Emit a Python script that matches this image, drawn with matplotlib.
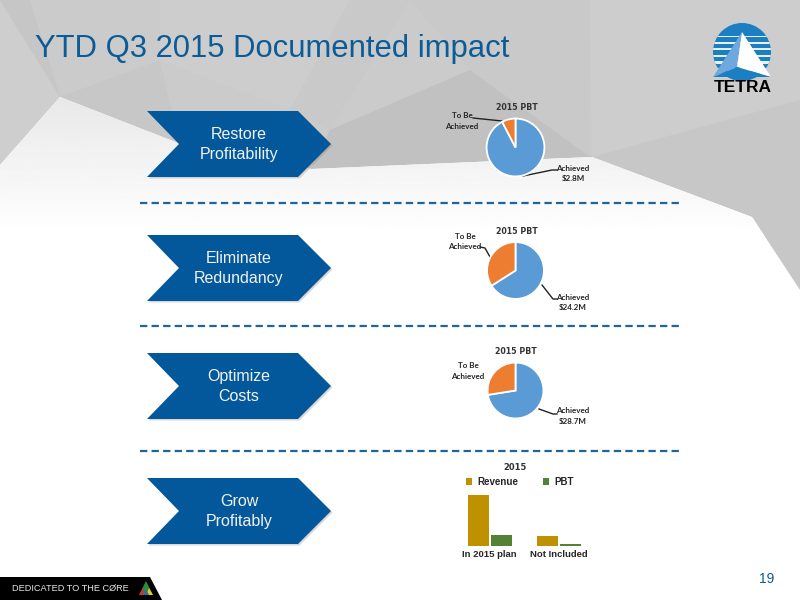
import numpy as np
import matplotlib
matplotlib.use("Agg")
import matplotlib.pyplot as plt
from matplotlib.patches import Polygon, Circle, Rectangle

W, H = 800, 600

# data
title = "YTD Q3 2015 Documented impact"
steps = ["Restore\nProfitability", "Eliminate\nRedundancy", "Optimize\nCosts", "Grow\nProfitably"]
pie_labels = ["Achieved", "To Be\nAchieved"]
pie_amounts = ["$2.8M", "$24.2M", "$28.7M"]
pie_shares = [[92.4, 7.6], [66, 34], [72.5, 27.5]]
bar_cats = ["In 2015 plan", "Not Included"]
revenue = [51, 10]
pbt = [11, 2.3]

BLUE = "#02589b"
plt.rcParams["font.family"] = ["Liberation Sans", "DejaVu Sans"]
fig = plt.figure(figsize=(8, 6), dpi=100)


def px_axes(x0, y0, x1, y1, z=2):
    ax = fig.add_axes([x0 / W, 1 - y1 / H, (x1 - x0) / W, (y1 - y0) / H], zorder=z)
    ax.patch.set_alpha(0)
    return ax


# page layer in pixel coordinates
bg = px_axes(0, 0, W, H, z=0)
bg.set_xlim(0, W)
bg.set_ylim(H, 0)
bg.axis("off")

# grey facets at the top
bg.add_patch(Polygon([(0, 0), (800, 0), (800, 300), (0, 300)], fc="#cbcbcb", ec="none", zorder=1))
facets = [
    ([(0, 0), (60, 97), (0, 165)], "#cecece"),
    ([(0, 0), (30, 0), (60, 97)], "#c6c6c6"),
    ([(60, 97), (160, 60), (178, 143)], "#c7c7c7"),
    ([(160, 0), (350, 0), (290, 110), (160, 60)], "#cdcdcd"),
    ([(350, 0), (410, 0), (330, 130), (290, 110)], "#c9c9c9"),
    ([(330, 130), (470, 70), (592, 157), (311, 169)], "#c1c1c1"),
    ([(410, 0), (590, 0), (590, 157), (470, 70)], "#c9c9c9"),
    ([(590, 0), (800, 0), (800, 150), (592, 157)], "#cdcdcd"),
    ([(592, 157), (800, 100), (800, 290), (752, 217)], "#c7c7c7"),
]
for pts, c in facets:
    bg.add_patch(Polygon(pts, fc=c, ec="none", zorder=1))

# white sheet with a soft shade near its top
sheet = Polygon([(0, 165), (60, 97), (178, 143), (311, 169), (592, 157), (752, 217),
                 (800, 290), (800, 600), (0, 600)], fc="white", ec="none", zorder=2)
bg.add_patch(sheet)
shade = np.linspace(0.91, 1, 80).reshape(-1, 1)
im = bg.imshow(shade, extent=(0, 800, 235, 97), cmap="gray", vmin=0, vmax=1,
               aspect="auto", zorder=2.5)
im.set_clip_path(sheet)
bg.set_xlim(0, W)
bg.set_ylim(H, 0)

bg.text(35, 49, title, fontsize=22.3, color="#0b5c96", va="center", ha="left", zorder=6)

# chevrons
for top, label in zip([111, 235, 353, 478], steps):
    bot, mid = top + 66, top + 33
    pts = [(147, top), (298, top), (331, mid), (298, bot), (147, bot), (179, mid)]
    bg.add_patch(Polygon([(x + 1.5, y + 1.5) for x, y in pts], fc="#808080", alpha=0.3, ec="none", zorder=4))
    bg.add_patch(Polygon(pts, fc=BLUE, ec="none", zorder=5))
    bg.text(239, mid + 0.5, label, color="#f2f2f2", fontsize=11.5, ha="center", va="center",
            linespacing=1.35, zorder=6)

# dashed separators
for y in [202.5, 326, 451]:
    bg.plot([140, 682], [y, y], color="#1c659e", lw=1.6, dashes=(3.3, 1.9), zorder=4)

# pies
pie_boxes = [(515.5, 147.5, 29.5), (515.5, 270.5, 29), (515.5, 390.5, 28.5)]
title_pos = [(517, 108), (517, 232), (516, 351)]
tobe_pos = [(462, 121), (465, 241.5), (468, 371)]
ach_pos = [(573, 173.5), (573, 302.5), (573, 416)]
leaders = [
    ([(473, 118), (502, 121)], [(523, 176), (552, 170), (557, 170)]),
    ([(480, 247), (485, 248), (490, 257)], [(542, 285), (553, 299), (557, 299)]),
    (None, [(539, 409), (553, 414), (557, 414)]),
]
lab_font = ["Lato", "DejaVu Sans"]
for i, shares in enumerate(pie_shares):
    cx, cy, r = pie_boxes[i]
    ax = px_axes(cx - r, cy - r, cx + r, cy + r, z=3)
    ax.pie(shares, colors=["#5b9bd5", "#ed7d31"], startangle=90, counterclock=False,
           wedgeprops={"edgecolor": "white", "linewidth": 1.3})
    ax.set_xlim(-1.02, 1.02)
    ax.set_ylim(-1.02, 1.02)
    bg.text(*title_pos[i], "2015 PBT", fontsize=5.7, fontweight="bold", color="#333333",
            family=["DejaVu Sans"], ha="center", va="center", zorder=6)
    bg.text(*tobe_pos[i], pie_labels[1], fontsize=5.8, fontweight="bold", color="#262626",
            family=lab_font, ha="center", va="center", linespacing=1.65, zorder=6)
    bg.text(*ach_pos[i], pie_labels[0] + "\n" + pie_amounts[i], fontsize=5.8, fontweight="bold",
            color="#262626", family=lab_font, ha="center", va="center", linespacing=1.65, zorder=6)
    for line in leaders[i]:
        if line:
            bg.plot(*zip(*line), color="#222222", lw=1.0, zorder=6)

# bars
bx = px_axes(455, 486, 594, 546, z=3)
x = np.arange(len(bar_cats))
w = 0.30
b1 = bx.bar(x - 0.165, revenue, w, color="#bf9000", label="Revenue")
b2 = bx.bar(x + 0.165, pbt, w, color="#548235", label="PBT")
bx.set_xlim(-0.5, 1.5)
bx.set_ylim(0, 60)
bx.set_yticks([])
bx.set_xticks(x, bar_cats, fontsize=6.8, fontweight="bold", color="#262626", family=["Liberation Sans"])
bx.tick_params(axis="x", length=0, pad=3)
for s in bx.spines.values():
    s.set_visible(False)
bg.text(515, 468, "2015", fontsize=6, fontweight="bold", color="#333333",
        family=["DejaVu Sans"], ha="center", va="center", zorder=6)
fig.legend(handles=[b1, b2], loc="center", bbox_to_anchor=(520 / W, 1 - 482 / H), ncol=2, frameon=False,
           prop={"family": ["Liberation Sans"], "size": 7, "weight": "bold"}, labelcolor="#262626",
           handlelength=0.6, handleheight=0.6, handletextpad=0.5, columnspacing=2.6)

# logo
disc = Circle((742, 52), 29, fc="#1b7fc2", ec="none", zorder=5)
bg.add_patch(disc)
for y, h in [(35.5, 1), (42, 1.5), (48, 2), (54.5, 2.5), (61, 3), (67.5, 3.5)]:
    stripe = Rectangle((710, y), 64, h, fc="#e8f0f6", ec="none", zorder=5.1)
    bg.add_patch(stripe)
    stripe.set_clip_path(disc)
bg.add_patch(Polygon([(742, 32), (713, 77), (737, 67)], fc="#6fa8dc", ec="none", zorder=5.2))
bg.add_patch(Polygon([(742, 32), (771, 77), (737, 67)], fc="white", ec="none", zorder=5.2))
bg.add_patch(Polygon([(713, 77), (771, 77), (737, 67)], fc="#1b7fc2", ec="none", zorder=5.2))
bg.text(743, 87.5, "TETRA", fontsize=12.5, fontweight="bold", color="black", ha="center", va="center",
        family=["Liberation Sans"], zorder=6)

# footer
bg.add_patch(Polygon([(0, 577), (150, 577), (162, 600), (0, 600)], fc="black", ec="none", zorder=5))
bg.text(12, 588.5, "DEDICATED TO THE CØRE", fontsize=6.6, color="#e6e6e6", ha="left", va="center", zorder=6)
bg.add_patch(Polygon([(146, 581), (139, 595), (153, 595)], fc="#2a8f3c", ec="none", zorder=6))
bg.add_patch(Polygon([(139, 595), (143, 588), (146, 595)], fc="#c8372d", ec="none", zorder=6))
bg.add_patch(Polygon([(146, 595), (149, 588), (153, 595)], fc="#e8c81e", ec="none", zorder=6))
bg.add_patch(Polygon([(143, 595), (146, 589), (149, 595)], fc="#2b6cb0", ec="none", zorder=6))
bg.text(767, 579, "19", fontsize=10, color="#0b5c96", ha="center", va="center", zorder=6)

fig.savefig("out.png", dpi=100)
